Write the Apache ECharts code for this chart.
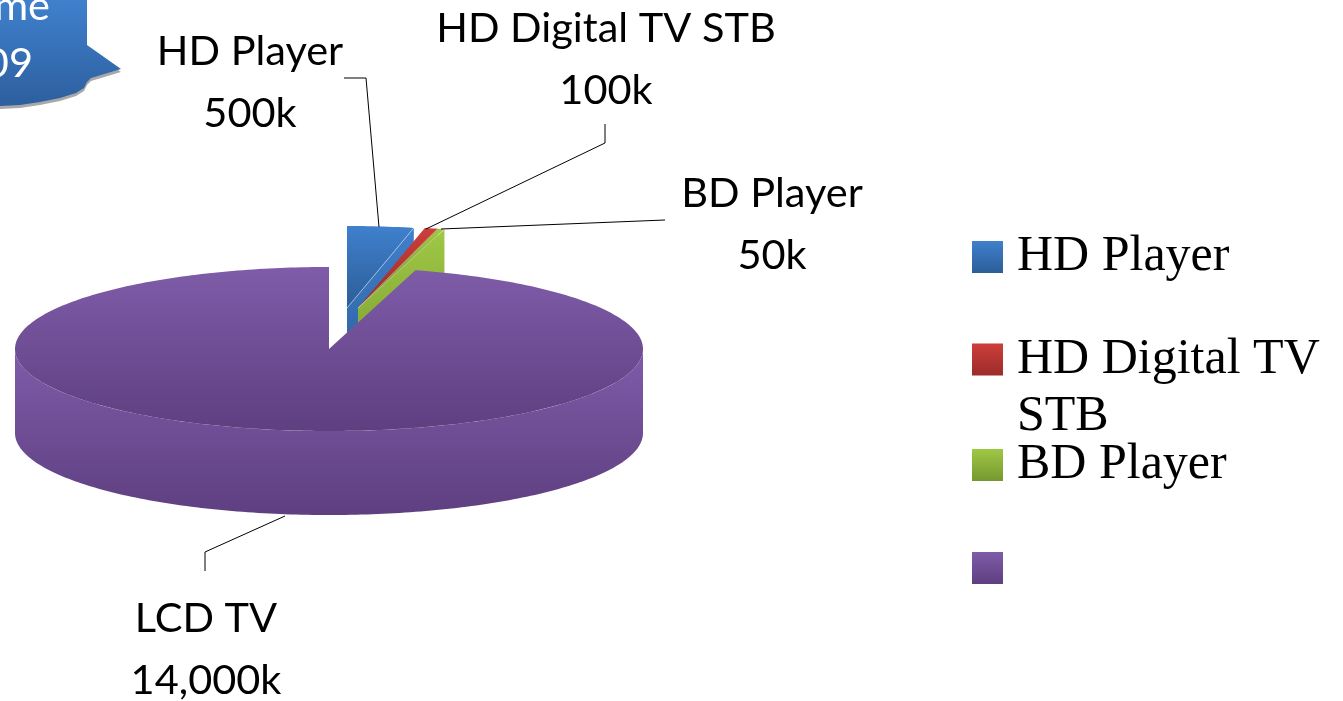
<!DOCTYPE html>
<html>
<head>
<meta charset="utf-8">
<style>
  html, body { margin: 0; padding: 0; background: #fff; overflow: hidden; }
  #chart { width: 1343px; height: 701px; }
</style>
<script src="https://cdn.jsdelivr.net/npm/echarts@6/dist/echarts.min.js"></script>
</head>
<body>
<div id="chart"></div>
<script>
// thousands of units
const categories = ['HD Player', 'HD Digital TV STB', 'BD Player', 'LCD TV'];
const volumes = [500, 100, 50, 14000];
const volumeLabels = ['500k', '100k', '50k', '14,000k'];
// blank first line on the STB one keeps "HD Digital TV" level with its icon
const legendNames = ['HD Player', ' \nHD Digital TV\nSTB', 'BD Player', ''];

const colorTop = ['#3f80cd', '#cd3e3a', '#9fc845', '#7f5ca9'];
const colorBottom = ['#2c5d98', '#9b2c2a', '#76982f', '#5e3f80'];

// pie geometry, the ellipse the 3d pie sits on
const cx = 329, cy = 349, rx = 314, ry = 82, depth = 84;
// exploded offset of each slice
const explodeX = [18, 29, 29, 0];
const explodeY = [-41, -41, -41, 0];

// label centre and leader line of each slice
const labelX = [250, 606, 772, 206];
const labelY = [83, 60, 225, 650];
const leaders = [
  [[344, 78], [366, 78], [379, 227]],
  [[605, 124], [605, 143], [426, 229]],
  [[665, 220], [441, 229]],
  [[285, 516], [205, 552], [205, 571]]
];

const labelFont = 'Lato';
const labelSize = 41.5;
const total = volumes.reduce((a, b) => a + b, 0);

function grad(i) {
  return new echarts.graphic.LinearGradient(0, 0, 0, 1, [
    { offset: 0, color: colorTop[i] },
    { offset: 1, color: colorBottom[i] }
  ]);
}

function arcPoint(ox, oy, deg) {
  const a = deg * Math.PI / 180;
  return [ox + rx * Math.sin(a), oy - ry * Math.cos(a)];
}

function arcPoints(ox, oy, from, to) {
  const pts = [];
  const n = Math.max(2, Math.ceil(Math.abs(to - from)));
  for (let k = 0; k <= n; k++) {
    pts.push(arcPoint(ox, oy, from + (to - from) * k / n));
  }
  return pts;
}

function renderSlice(i) {
  return function (params, api) {
    let before = 0;
    for (let k = 0; k < i; k++) before += volumes[k];
    const from = before / total * 360;
    const to = from + api.value(0) / total * 360;
    const ox = cx + explodeX[i], oy = cy + explodeY[i];
    const children = [];

    // the cut face at the end of the slice, only the small ones show it
    if (i < 3) {
      const p = arcPoint(ox, oy, to);
      children.push({
        type: 'polygon',
        shape: { points: [[ox, oy], p, [p[0], p[1] + depth], [ox, oy + depth]] },
        style: { fill: grad(i) }
      });
    }
    // outer wall, front half only
    const wallFrom = Math.max(from, 90), wallTo = Math.min(to, 270);
    if (wallTo > wallFrom) {
      const upper = arcPoints(ox, oy, wallFrom, wallTo);
      const lower = arcPoints(ox, oy + depth, wallTo, wallFrom);
      children.push({
        type: 'polygon',
        shape: { points: upper.concat(lower) },
        style: { fill: grad(i) }
      });
    }
    // top face
    children.push({
      type: 'polygon',
      shape: { points: [[ox, oy]].concat(arcPoints(ox, oy, from, to)) },
      style: { fill: grad(i) }
    });
    // the small slices have a pale edge where the top meets the cut
    if (i < 3) {
      children.push({
        type: 'polyline',
        shape: { points: [[ox, oy], arcPoint(ox, oy, to)] },
        style: { stroke: 'rgba(255,255,255,0.4)', lineWidth: 1, fill: 'none' }
      });
    }
    // leader line and label
    children.push({
      type: 'polyline',
      z2: 10,
      shape: { points: leaders[i] },
      style: { stroke: '#000', lineWidth: 1, fill: 'none' }
    });
    children.push({
      type: 'text',
      z2: 10,
      style: {
        text: categories[i] + '\n' + volumeLabels[i],
        x: labelX[i],
        y: labelY[i],
        align: 'center',
        verticalAlign: 'middle',
        fontFamily: labelFont,
        fontSize: labelSize,
        lineHeight: 62,
        fill: '#000'
      }
    });
    return { type: 'group', children: children };
  };
}

const chart = echarts.init(document.getElementById('chart'));

const series = categories.map((name, i) => ({
  name: name,
  type: 'custom',
  coordinateSystem: 'none',
  renderItem: renderSlice(i),
  itemStyle: { color: colorTop[i] },
  data: [[volumes[i]]],
  silent: true
}));

// one legend per item, the wrapped STB line must not push the others down
const legendTop = [232, 274, 440, 552];
const legends = categories.map((name, i) => ({
  data: [{ name: name, icon: 'rect', itemStyle: { color: grad(i) } }],
  orient: 'vertical',
  left: 972,
  top: legendTop[i],
  padding: 0,
  itemWidth: 31,
  itemHeight: 32,
  selectedMode: false,
  formatter: () => legendNames[i],
  textStyle: {
    fontFamily: 'Liberation Serif',
    fontSize: 50,
    color: '#000',
    lineHeight: i === 1 ? 57 : 32,
    padding: [0, 0, 0, 9]
  }
}));

// callout in the corner, runs off the page on the left and top
const calloutPoints = [
  [0, 0], [87, 0], [87, 45], [121, 69], [91, 78], [87, 82], [84, 88], [76, 93],
  [60, 98], [40, 102], [20, 105], [0, 106]
];

chart.setOption({
  animation: false,
  backgroundColor: '#fff',
  legend: legends,
  series: series,
  graphic: [
    {
      type: 'polygon',
      x: 0, y: 3,
      shape: { points: calloutPoints },
      style: { fill: '#a8a8a8' }
    },
    {
      type: 'polygon',
      x: 0, y: 0,
      shape: { points: calloutPoints },
      style: {
        fill: new echarts.graphic.LinearGradient(0, 0, 0, 1, [
          { offset: 0, color: '#3f80cd' },
          { offset: 1, color: '#2d5f9e' }
        ])
      }
    },
    {
      type: 'text',
      x: 50, y: 7,
      style: { text: 'me', align: 'right', verticalAlign: 'middle', fontFamily: labelFont, fontSize: labelSize, fill: '#fff' }
    },
    {
      type: 'text',
      x: 33, y: 64,
      style: { text: '09', align: 'right', verticalAlign: 'middle', fontFamily: labelFont, fontSize: labelSize, fill: '#fff' }
    }
  ]
});
</script>
</body>
</html>
